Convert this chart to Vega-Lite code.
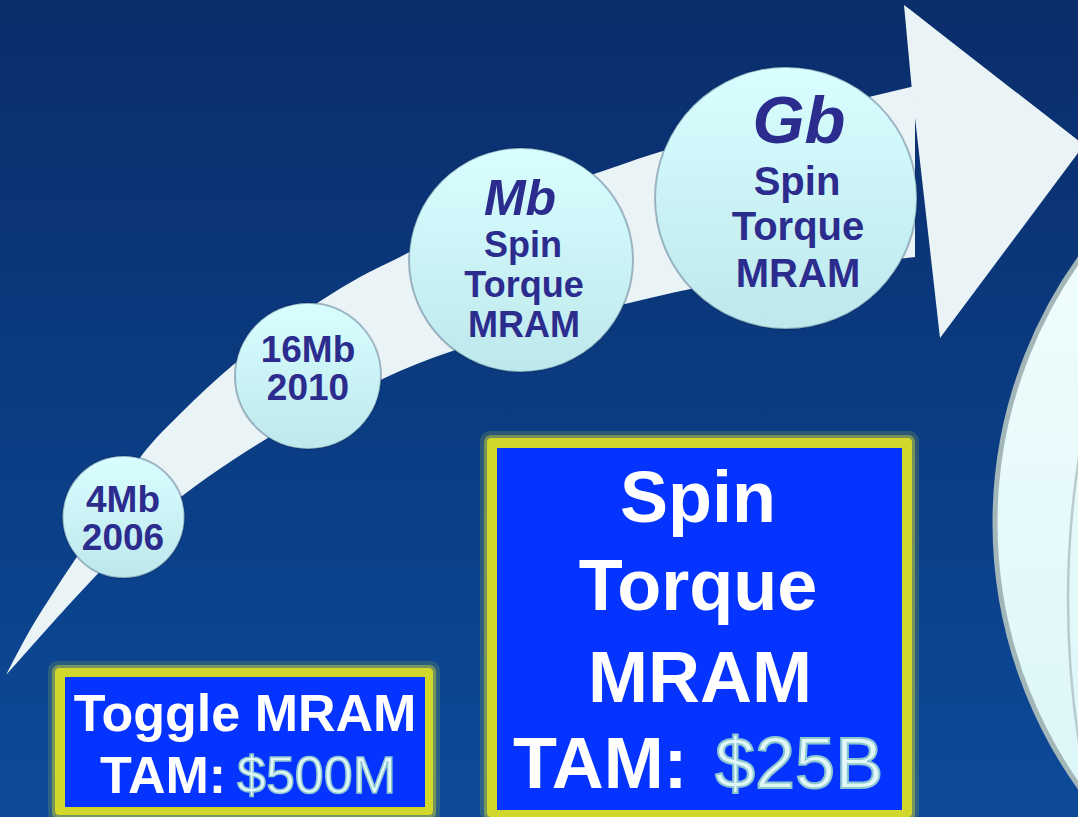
{
  "$schema": "https://vega.github.io/schema/vega-lite/v6.json",
  "width": 1078,
  "height": 817,
  "autosize": {"type": "none"},
  "padding": 0,
  "background": "#0b3c80",
  "config": {"view": {"stroke": null}, "font": "Liberation Sans"},
  "datasets": {
    "bg": [{"x": 0, "x2": 1078, "y": 0, "y2": 817}],
    "arrowBody": [
      {"x": 6, "y": 675, "y2": 675},
      {"x": 30, "y": 630, "y2": 648},
      {"x": 55, "y": 590, "y2": 620},
      {"x": 90, "y": 537, "y2": 582},
      {"x": 142, "y": 455, "y2": 529},
      {"x": 182, "y": 412, "y2": 496},
      {"x": 233, "y": 365, "y2": 460},
      {"x": 280, "y": 328, "y2": 431},
      {"x": 322, "y": 300, "y2": 409},
      {"x": 360, "y": 277, "y2": 390},
      {"x": 400, "y": 257, "y2": 371},
      {"x": 470, "y": 220, "y2": 345},
      {"x": 530, "y": 195, "y2": 327},
      {"x": 600, "y": 172, "y2": 310},
      {"x": 650, "y": 155, "y2": 298},
      {"x": 700, "y": 140, "y2": 287},
      {"x": 780, "y": 118, "y2": 274},
      {"x": 873, "y": 96, "y2": 262},
      {"x": 915, "y": 86, "y2": 257}
    ],
    "arrowHead": [
      {"x": 904, "y": 5, "y2": 5},
      {"x": 912, "y": 11, "y2": 91},
      {"x": 940, "y": 33, "y2": 338},
      {"x": 1084, "y": 145, "y2": 145}
    ],
    "big": [{"x": 1450, "y": 523, "d": 910}],
    "arc": [{"x": 1984, "y": 600, "d": 1832}],
    "circles": [
      {"x": 123.5, "y": 517, "d": 122},
      {"x": 308, "y": 376, "d": 146},
      {"x": 521, "y": 260, "d": 224},
      {"x": 786, "y": 198, "d": 262}
    ],
    "smallText": [
      {"x": 123, "y": 512, "t": "4Mb"},
      {"x": 123, "y": 550, "t": "2006"},
      {"x": 308, "y": 362, "t": "16Mb"},
      {"x": 308, "y": 400, "t": "2010"}
    ],
    "mbText": [
      {"x": 523, "y": 257, "t": "Spin"},
      {"x": 524, "y": 297, "t": "Torque"},
      {"x": 524, "y": 337, "t": "MRAM"}
    ],
    "gbText": [
      {"x": 797, "y": 195, "t": "Spin"},
      {"x": 798, "y": 240, "t": "Torque"},
      {"x": 798, "y": 287, "t": "MRAM"}
    ],
    "mbHead": [{"x": 520, "y": 215, "t": "Mb"}],
    "gbHead": [{"x": 799, "y": 143, "t": "Gb"}],
    "glowOuter": [
      {"x": 48, "x2": 440, "y": 661, "y2": 822},
      {"x": 480, "x2": 919, "y": 431, "y2": 822}
    ],
    "glow": [
      {"x": 52, "x2": 436, "y": 665, "y2": 819},
      {"x": 484, "x2": 915, "y": 435, "y2": 820}
    ],
    "yellow": [
      {"x": 55, "x2": 433, "y": 668, "y2": 815},
      {"x": 487, "x2": 912, "y": 438, "y2": 817}
    ],
    "blue": [
      {"x": 65, "x2": 425, "y": 677, "y2": 807},
      {"x": 497, "x2": 902, "y": 448, "y2": 810}
    ],
    "toggleText": [
      {"x": 245, "y": 731, "t": "Toggle MRAM"}
    ],
    "toggleTam": [{"x": 100, "y": 793, "t": "TAM:"}],
    "toggleVal": [{"x": 237, "y": 793, "t": "$500M"}],
    "spinText": [
      {"x": 698, "y": 522, "t": "Spin"},
      {"x": 698, "y": 610, "t": "Torque"},
      {"x": 700, "y": 702, "t": "MRAM"}
    ],
    "spinTam": [{"x": 513, "y": 788, "t": "TAM:"}],
    "spinVal": [{"x": 715, "y": 788, "t": "$25B"}]
  },
  "layer": [
    {
      "data": {"name": "bg"},
      "mark": {"type": "rect", "fill": {"gradient": "linear", "x1": 0, "y1": 0, "x2": 0, "y2": 1, "stops": [{"offset": 0, "color": "#0a2d6b"}, {"offset": 1, "color": "#0c4a98"}]}},
      "encoding": {
        "x": {"field": "x", "type": "quantitative", "scale": {"domain": [0, 1078], "nice": false, "zero": false}, "axis": null},
        "x2": {"field": "x2"},
        "y": {"field": "y", "type": "quantitative", "scale": {"domain": [0, 817], "nice": false, "zero": false, "reverse": true}, "axis": null},
        "y2": {"field": "y2"}
      }
    },
    {
      "data": {"name": "arrowBody"},
      "mark": {"type": "area", "orient": "vertical", "interpolate": "monotone", "fill": "#eaf3f5", "opacity": 1},
      "encoding": {
        "x": {"field": "x", "type": "quantitative", "scale": {"domain": [0, 1078], "nice": false, "zero": false}, "axis": null},
        "y": {"field": "y", "type": "quantitative", "stack": null, "scale": {"domain": [0, 817], "nice": false, "zero": false, "reverse": true}, "axis": null},
        "y2": {"field": "y2"}
      }
    },
    {
      "data": {"name": "arrowHead"},
      "mark": {"type": "area", "orient": "vertical", "interpolate": "linear", "fill": "#eaf3f5", "opacity": 1, "clip": true},
      "encoding": {
        "x": {"field": "x", "type": "quantitative", "scale": {"domain": [0, 1078], "nice": false, "zero": false}, "axis": null},
        "y": {"field": "y", "type": "quantitative", "stack": null, "scale": {"domain": [0, 817], "nice": false, "zero": false, "reverse": true}, "axis": null},
        "y2": {"field": "y2"}
      }
    },
    {
      "data": {"name": "big"},
      "mark": {"type": "point", "shape": "circle", "filled": true, "opacity": 1, "clip": true, "fill": {"gradient": "linear", "x1": 0, "y1": 0, "x2": 0, "y2": 1, "stops": [{"offset": 0, "color": "#f6ffff"}, {"offset": 1, "color": "#d6f4f6"}]}, "stroke": "#a3b7b9", "strokeWidth": 5},
      "encoding": {
        "x": {"field": "x", "type": "quantitative", "scale": {"domain": [0, 1078], "nice": false, "zero": false}, "axis": null},
        "y": {"field": "y", "type": "quantitative", "scale": {"domain": [0, 817], "nice": false, "zero": false, "reverse": true}, "axis": null},
        "size": {"field": "d", "type": "quantitative", "scale": {"type": "pow", "exponent": 2, "domain": [0, 1000], "range": [0, 1000000]}, "legend": null}
      }
    },
    {
      "data": {"name": "arc"},
      "mark": {"type": "point", "shape": "circle", "filled": false, "opacity": 1, "clip": true, "stroke": "#b8cbcd", "strokeWidth": 2.5},
      "encoding": {
        "x": {"field": "x", "type": "quantitative", "scale": {"domain": [0, 1078], "nice": false, "zero": false}, "axis": null},
        "y": {"field": "y", "type": "quantitative", "scale": {"domain": [0, 817], "nice": false, "zero": false, "reverse": true}, "axis": null},
        "size": {"field": "d", "type": "quantitative", "scale": {"type": "pow", "exponent": 2, "domain": [0, 1000], "range": [0, 1000000]}, "legend": null}
      }
    },
    {
      "data": {"name": "circles"},
      "mark": {"type": "point", "shape": "circle", "filled": true, "opacity": 1, "fill": {"gradient": "linear", "x1": 0, "y1": 0, "x2": 0, "y2": 1, "stops": [{"offset": 0, "color": "#d9feff"}, {"offset": 1, "color": "#bde8ec"}]}, "stroke": "#062050", "strokeOpacity": 0.3, "strokeWidth": 2},
      "encoding": {
        "x": {"field": "x", "type": "quantitative", "scale": {"domain": [0, 1078], "nice": false, "zero": false}, "axis": null},
        "y": {"field": "y", "type": "quantitative", "scale": {"domain": [0, 817], "nice": false, "zero": false, "reverse": true}, "axis": null},
        "size": {"field": "d", "type": "quantitative", "scale": {"type": "pow", "exponent": 2, "domain": [0, 1000], "range": [0, 1000000]}, "legend": null}
      }
    },
    {
      "data": {"name": "smallText"},
      "mark": {"type": "text", "font": "Liberation Sans", "fontWeight": "bold", "fontSize": 37, "align": "center", "baseline": "alphabetic", "fill": "#2b2c8e"},
      "encoding": {
        "x": {"field": "x", "type": "quantitative", "scale": {"domain": [0, 1078], "nice": false, "zero": false}, "axis": null},
        "y": {"field": "y", "type": "quantitative", "scale": {"domain": [0, 817], "nice": false, "zero": false, "reverse": true}, "axis": null},
        "text": {"field": "t"}
      }
    },
    {
      "data": {"name": "mbText"},
      "mark": {"type": "text", "font": "Liberation Sans", "fontWeight": "bold", "fontSize": 36, "align": "center", "baseline": "alphabetic", "fill": "#2b2c8e"},
      "encoding": {
        "x": {"field": "x", "type": "quantitative", "scale": {"domain": [0, 1078], "nice": false, "zero": false}, "axis": null},
        "y": {"field": "y", "type": "quantitative", "scale": {"domain": [0, 817], "nice": false, "zero": false, "reverse": true}, "axis": null},
        "text": {"field": "t"}
      }
    },
    {
      "data": {"name": "gbText"},
      "mark": {"type": "text", "font": "Liberation Sans", "fontWeight": "bold", "fontSize": 40, "align": "center", "baseline": "alphabetic", "fill": "#2b2c8e"},
      "encoding": {
        "x": {"field": "x", "type": "quantitative", "scale": {"domain": [0, 1078], "nice": false, "zero": false}, "axis": null},
        "y": {"field": "y", "type": "quantitative", "scale": {"domain": [0, 817], "nice": false, "zero": false, "reverse": true}, "axis": null},
        "text": {"field": "t"}
      }
    },
    {
      "data": {"name": "mbHead"},
      "mark": {"type": "text", "font": "Liberation Sans", "fontWeight": "bold", "fontStyle": "italic", "fontSize": 50, "align": "center", "baseline": "alphabetic", "fill": "#2b2c8e"},
      "encoding": {
        "x": {"field": "x", "type": "quantitative", "scale": {"domain": [0, 1078], "nice": false, "zero": false}, "axis": null},
        "y": {"field": "y", "type": "quantitative", "scale": {"domain": [0, 817], "nice": false, "zero": false, "reverse": true}, "axis": null},
        "text": {"field": "t"}
      }
    },
    {
      "data": {"name": "gbHead"},
      "mark": {"type": "text", "font": "Liberation Sans", "fontWeight": "bold", "fontStyle": "italic", "fontSize": 67, "align": "center", "baseline": "alphabetic", "fill": "#2b2c8e"},
      "encoding": {
        "x": {"field": "x", "type": "quantitative", "scale": {"domain": [0, 1078], "nice": false, "zero": false}, "axis": null},
        "y": {"field": "y", "type": "quantitative", "scale": {"domain": [0, 817], "nice": false, "zero": false, "reverse": true}, "axis": null},
        "text": {"field": "t"}
      }
    },
    {
      "data": {"name": "glowOuter"},
      "mark": {"type": "rect", "fill": "#c8d03a", "opacity": 0.18, "cornerRadius": 10},
      "encoding": {
        "x": {"field": "x", "type": "quantitative", "scale": {"domain": [0, 1078], "nice": false, "zero": false}, "axis": null},
        "x2": {"field": "x2"},
        "y": {"field": "y", "type": "quantitative", "scale": {"domain": [0, 817], "nice": false, "zero": false, "reverse": true}, "axis": null},
        "y2": {"field": "y2"}
      }
    },
    {
      "data": {"name": "glow"},
      "mark": {"type": "rect", "fill": "#d0d632", "opacity": 0.45, "cornerRadius": 7},
      "encoding": {
        "x": {"field": "x", "type": "quantitative", "scale": {"domain": [0, 1078], "nice": false, "zero": false}, "axis": null},
        "x2": {"field": "x2"},
        "y": {"field": "y", "type": "quantitative", "scale": {"domain": [0, 817], "nice": false, "zero": false, "reverse": true}, "axis": null},
        "y2": {"field": "y2"}
      }
    },
    {
      "data": {"name": "yellow"},
      "mark": {"type": "rect", "fill": "#d2d72c", "opacity": 1, "cornerRadius": 4},
      "encoding": {
        "x": {"field": "x", "type": "quantitative", "scale": {"domain": [0, 1078], "nice": false, "zero": false}, "axis": null},
        "x2": {"field": "x2"},
        "y": {"field": "y", "type": "quantitative", "scale": {"domain": [0, 817], "nice": false, "zero": false, "reverse": true}, "axis": null},
        "y2": {"field": "y2"}
      }
    },
    {
      "data": {"name": "blue"},
      "mark": {"type": "rect", "fill": "#0533ff", "opacity": 1},
      "encoding": {
        "x": {"field": "x", "type": "quantitative", "scale": {"domain": [0, 1078], "nice": false, "zero": false}, "axis": null},
        "x2": {"field": "x2"},
        "y": {"field": "y", "type": "quantitative", "scale": {"domain": [0, 817], "nice": false, "zero": false, "reverse": true}, "axis": null},
        "y2": {"field": "y2"}
      }
    },
    {
      "data": {"name": "toggleText"},
      "mark": {"type": "text", "font": "Liberation Sans", "fontWeight": "bold", "fontSize": 52, "align": "center", "baseline": "alphabetic", "fill": "#ffffff"},
      "encoding": {
        "x": {"field": "x", "type": "quantitative", "scale": {"domain": [0, 1078], "nice": false, "zero": false}, "axis": null},
        "y": {"field": "y", "type": "quantitative", "scale": {"domain": [0, 817], "nice": false, "zero": false, "reverse": true}, "axis": null},
        "text": {"field": "t"}
      }
    },
    {
      "data": {"name": "toggleTam"},
      "mark": {"type": "text", "font": "Liberation Sans", "fontWeight": "bold", "fontSize": 52, "align": "left", "baseline": "alphabetic", "fill": "#ffffff"},
      "encoding": {
        "x": {"field": "x", "type": "quantitative", "scale": {"domain": [0, 1078], "nice": false, "zero": false}, "axis": null},
        "y": {"field": "y", "type": "quantitative", "scale": {"domain": [0, 817], "nice": false, "zero": false, "reverse": true}, "axis": null},
        "text": {"field": "t"}
      }
    },
    {
      "data": {"name": "toggleVal"},
      "mark": {"type": "text", "font": "Liberation Sans", "fontWeight": "normal", "fontSize": 52, "align": "left", "baseline": "alphabetic", "fill": "#e2f7f9", "stroke": "#8cc6ce", "strokeWidth": 1.5},
      "encoding": {
        "x": {"field": "x", "type": "quantitative", "scale": {"domain": [0, 1078], "nice": false, "zero": false}, "axis": null},
        "y": {"field": "y", "type": "quantitative", "scale": {"domain": [0, 817], "nice": false, "zero": false, "reverse": true}, "axis": null},
        "text": {"field": "t"}
      }
    },
    {
      "data": {"name": "spinText"},
      "mark": {"type": "text", "font": "Liberation Sans", "fontWeight": "bold", "fontSize": 72, "align": "center", "baseline": "alphabetic", "fill": "#ffffff"},
      "encoding": {
        "x": {"field": "x", "type": "quantitative", "scale": {"domain": [0, 1078], "nice": false, "zero": false}, "axis": null},
        "y": {"field": "y", "type": "quantitative", "scale": {"domain": [0, 817], "nice": false, "zero": false, "reverse": true}, "axis": null},
        "text": {"field": "t"}
      }
    },
    {
      "data": {"name": "spinTam"},
      "mark": {"type": "text", "font": "Liberation Sans", "fontWeight": "bold", "fontSize": 72, "align": "left", "baseline": "alphabetic", "fill": "#ffffff"},
      "encoding": {
        "x": {"field": "x", "type": "quantitative", "scale": {"domain": [0, 1078], "nice": false, "zero": false}, "axis": null},
        "y": {"field": "y", "type": "quantitative", "scale": {"domain": [0, 817], "nice": false, "zero": false, "reverse": true}, "axis": null},
        "text": {"field": "t"}
      }
    },
    {
      "data": {"name": "spinVal"},
      "mark": {"type": "text", "font": "Liberation Sans", "fontWeight": "normal", "fontSize": 72, "align": "left", "baseline": "alphabetic", "fill": "#e2f7f9", "stroke": "#8cc6ce", "strokeWidth": 2},
      "encoding": {
        "x": {"field": "x", "type": "quantitative", "scale": {"domain": [0, 1078], "nice": false, "zero": false}, "axis": null},
        "y": {"field": "y", "type": "quantitative", "scale": {"domain": [0, 817], "nice": false, "zero": false, "reverse": true}, "axis": null},
        "text": {"field": "t"}
      }
    }
  ]
}
